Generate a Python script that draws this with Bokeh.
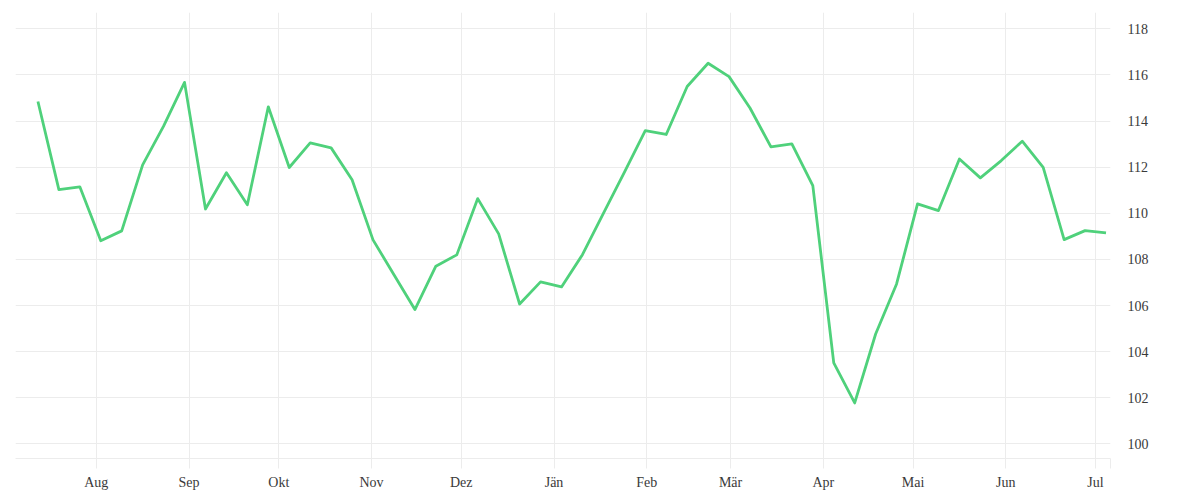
import pandas as pd
from bokeh.plotting import figure
from bokeh.models import FixedTicker, CustomJSTickFormatter, Range1d
from bokeh.embed import file_html
from bokeh.resources import INLINE

# ---- data ----
start_date = "2022-07-12 12:00"
values = [114.85, 111.03, 111.15, 108.81, 109.24, 112.10, 113.78, 115.68, 110.19, 111.76,
          110.37, 114.62, 111.99, 113.06, 112.84, 111.46, 108.85, 107.34, 105.83, 107.71,
          108.20, 110.64, 109.11, 106.07, 107.03, 106.81, 108.21, 110.00, 111.78, 113.59,
          113.42, 115.50, 116.51, 115.93, 114.57, 112.88, 113.01, 111.20, 103.52, 101.78,
          104.77, 106.94, 110.41, 110.12, 112.36, 111.54, 112.29, 113.13, 111.99, 108.86,
          109.25, 109.15]
dates = pd.date_range(start=start_date, periods=len(values), freq="7D")

month_ticks = ["2022-08-01", "2022-09-01", "2022-10-01", "2022-11-01", "2022-12-01",
               "2023-01-01", "2023-02-01", "2023-03-01", "2023-04-01", "2023-05-01",
               "2023-06-01", "2023-07-01", "2023-07-06"]
month_labels = ["Aug", "Sep", "Okt", "Nov", "Dez", "Jän", "Feb", "Mär", "Apr", "Mai",
                "Jun", "Jul", ""]
y_ticks = [100, 102, 104, 106, 108, 110, 112, 114, 116, 118]

x_start, x_end = pd.Timestamp("2022-07-05"), pd.Timestamp("2023-07-06")
y_start, y_end = 99.37, 118.71

FONT = "Liberation Serif"
TXT = "#3a3a3a"
GRID = "#ececec"

p = figure(width=1192, height=498, x_axis_type="datetime", y_axis_location="right",
           x_range=Range1d(x_start, x_end), y_range=Range1d(y_start, y_end),
           output_backend="svg", toolbar_location=None,
           min_border_left=15, min_border_right=82, min_border_top=12, min_border_bottom=40)
p.outline_line_color = None

p.line(dates, values, line_color="#4fd17b", line_width=2.8, line_join="round")

tick_ms = [pd.Timestamp(t).value / 1e6 for t in month_ticks]
p.xaxis.ticker = FixedTicker(ticks=tick_ms)
p.xaxis.formatter = CustomJSTickFormatter(args=dict(tvals=tick_ms, tlabels=month_labels), code="""
    for (let i = 0; i < tvals.length; i++) {
        if (Math.abs(tvals[i] - tick) < 1000) { return tlabels[i]; }
    }
    return "";
""")
p.xaxis.axis_line_color = GRID
p.xaxis.major_tick_line_color = GRID
p.xaxis.major_tick_out = 10
p.xaxis.major_tick_in = 0
p.xaxis.minor_tick_line_color = None
p.xaxis.major_label_standoff = 6
p.xaxis.major_label_text_font = FONT
p.xaxis.major_label_text_font_size = "14px"
p.xaxis.major_label_text_color = TXT

p.yaxis.ticker = FixedTicker(ticks=y_ticks)
p.yaxis.axis_line_color = None
p.yaxis.major_tick_line_color = None
p.yaxis.minor_tick_line_color = None
p.yaxis.major_tick_out = 0
p.yaxis.major_tick_in = 0
p.yaxis.major_label_standoff = 17
p.yaxis.major_label_text_font = FONT
p.yaxis.major_label_text_font_size = "14px"
p.yaxis.major_label_text_color = TXT

p.xgrid.grid_line_color = GRID
p.ygrid.grid_line_color = GRID

open("out.html", "w").write(file_html(p, INLINE))
